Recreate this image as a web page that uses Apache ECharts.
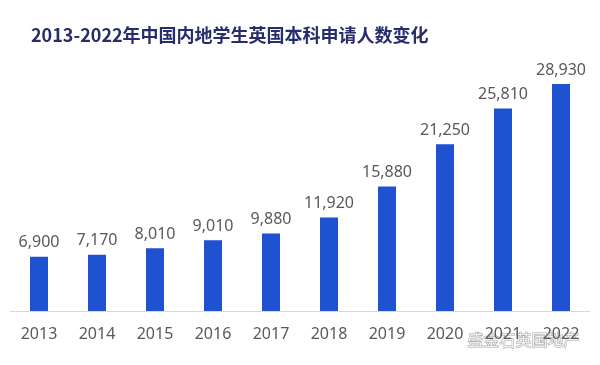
<!DOCTYPE html>
<html><head><meta charset="utf-8">
<script src="https://cdn.jsdelivr.net/npm/echarts@6/dist/echarts.min.js"></script>
<style>html,body{margin:0;padding:0;background:#fff}#c{width:600px;height:365px}</style>
</head><body><div id="c"></div>
<script>
const categories = ['2013','2014','2015','2016','2017','2018','2019','2020','2021','2022'];
const applicants = [6900,7170,8010,9010,9880,11920,15880,21250,25810,28930];
const titleText = '2013-2022年中国内地学生英国本科申请人数变化';

const chart = echarts.init(document.getElementById('c'));
chart.setOption({
  animation: false,
  backgroundColor: '#fff',
  title: {
    text: titleText, left: 26, top: 21,
    textStyle: {fontFamily: 'Noto Sans CJK SC', fontWeight: 'bold', fontSize: 18, color: '#272d6b'}
  },
  grid: {left: 10, right: 10, top: 75.6, bottom: 54, containLabel: false},
  xAxis: {
    type: 'category', data: categories,
    axisLine: {lineStyle: {color: '#d9d9d9', width: 1}},
    axisTick: {show: false},
    axisLabel: {color: '#595959', fontSize: 16, margin: 15, fontFamily: 'Noto Sans'}
  },
  yAxis: {type: 'value', min: 0, max: 30000, show: false, splitLine: {show: false}},
  series: [{
    type: 'bar', data: applicants, barWidth: 18,
    itemStyle: {color: '#1f52d1'},
    label: {
      show: true, position: 'top', distance: 6, color: '#595959', fontSize: 16,
      fontFamily: 'Noto Sans',
      formatter: p => p.value.toLocaleString('en-US')
    }
  }],
  graphic: [{
    type: 'text', right: 20, bottom: 17,
    style: {text: '盛金石英国地产', fontSize: 16, fill: 'rgba(255,255,255,0.85)',
      stroke: 'rgba(120,120,120,0.7)', lineWidth: 1, fontFamily: 'Noto Sans CJK SC'}
  }]
});
</script></body></html>
